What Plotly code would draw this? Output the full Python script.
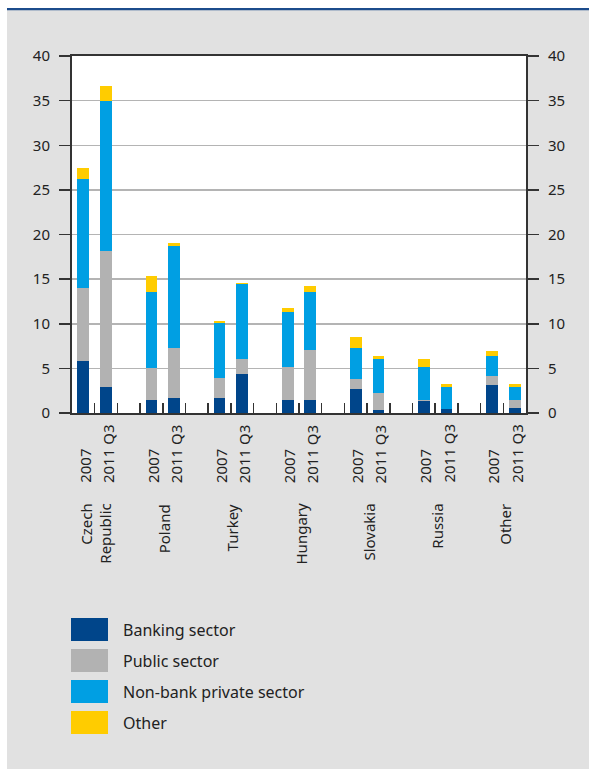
import plotly.graph_objects as go

# ---------------- data ----------------
countries = ["Czech<br>Republic", "Poland", "Turkey", "Hungary", "Slovakia", "Russia", "Other"]
periods = ["2007", "2011 Q3"]

# order: for each country -> 2007, 2011 Q3
banking = [5.8, 2.9, 1.5, 1.7, 1.7, 4.4, 1.5, 1.5, 2.7, 0.3, 1.3, 0.4, 3.1, 0.6]
public = [8.2, 15.2, 3.5, 5.6, 2.2, 1.6, 3.7, 5.6, 1.1, 1.9, 0.2, 0.1, 1.1, 0.9]
nonbank = [12.2, 16.9, 8.6, 11.4, 6.2, 8.4, 6.1, 6.5, 3.5, 3.9, 3.7, 2.4, 2.2, 1.4]
other = [1.2, 1.6, 1.7, 0.3, 0.2, 0.2, 0.5, 0.6, 1.2, 0.3, 0.8, 0.4, 0.5, 0.4]

series_names = ["Banking sector", "Public sector", "Non-bank private sector", "Other"]
series_values = [banking, public, nonbank, other]
series_colors = ["#00458a", "#b2b2b2", "#009fe3", "#ffcc00"]

y_ticks = [0, 5, 10, 15, 20, 25, 30, 35, 40]

# ---------------- layout helpers (pixel -> paper) ----------------
W_FIG, H_FIG = 589, 769
L, R, T, B = 72, 526, 56, 413  # plot area in pixels
PW, PH = R - L, B - T


def pxx(x):
    return (x - L) / PW


def pxy(y):
    return (B - y) / PH


slots_per_country = len(periods) + 1
n_slots = len(countries) * slots_per_country - 1
xpos = [slots_per_country * i + j for i in range(len(countries)) for j in range(len(periods))]

FONT = "Noto Sans"
TXT = "#222222"
AX = "#333333"

fig = go.Figure()
for name, vals, col in zip(series_names, series_values, series_colors):
    fig.add_trace(go.Bar(x=xpos, y=vals, name=name, marker=dict(color=col, line=dict(width=0)),
                         showlegend=False, hoverinfo="skip"))

# invisible trace to activate right axis
fig.add_trace(go.Scatter(x=[xpos[0]], y=[0], yaxis="y2", mode="markers",
                         marker=dict(opacity=0), showlegend=False, hoverinfo="skip"))

ann = []
for i in range(len(countries)):
    for j, p in enumerate(periods):
        ann.append(dict(x=slots_per_country * i + j, y=pxy(485), xref="x", yref="paper",
                        text=p, textangle=-90, xanchor="center", yanchor="bottom",
                        showarrow=False, xshift=1.5,
                        font=dict(family=FONT, size=15, color=TXT)))
    ann.append(dict(x=slots_per_country * i + (len(periods) - 1) / 2, y=pxy(502), xref="x", yref="paper",
                    text=countries[i], textangle=-90, xanchor="center", yanchor="top",
                    align="right", showarrow=False, xshift=1,
                    font=dict(family=FONT, size=15, color=TXT)))

shapes = [
    dict(type="rect", xref="paper", yref="paper", x0=pxx(-5), x1=pxx(7), y0=pxy(H_FIG + 10), y1=pxy(-5),
         fillcolor="white", line=dict(width=0), layer="above"),
    dict(type="rect", xref="paper", yref="paper", x0=pxx(-5), x1=pxx(W_FIG + 10), y0=pxy(8), y1=pxy(-5),
         fillcolor="white", line=dict(width=0), layer="above"),
    dict(type="line", xref="paper", yref="paper", x0=pxx(7), x1=pxx(W_FIG + 10), y0=pxy(9.2), y1=pxy(9.2),
         line=dict(color="#1c4c8c", width=2.2), layer="above"),
]

# custom legend
for k, (name, col) in enumerate(zip(series_names, series_colors)):
    top = 618 + 31 * k
    shapes.append(dict(type="rect", xref="paper", yref="paper", x0=pxx(71), x1=pxx(108),
                       y0=pxy(top + 23), y1=pxy(top), fillcolor=col, line=dict(width=0)))
    ann.append(dict(x=pxx(121), y=pxy(top + 11.5), xref="paper", yref="paper", text=name,
                    xanchor="left", yanchor="middle", showarrow=False,
                    font=dict(family=FONT, size=16, color=TXT)))

fig.update_layout(
    width=W_FIG, height=H_FIG, autosize=False,
    margin=dict(l=L, r=W_FIG - R, t=T, b=H_FIG - B, pad=0),
    paper_bgcolor="#e1e1e1", plot_bgcolor="white",
    barmode="stack", bargap=0.48,
    font=dict(family=FONT, size=15, color=TXT),
    xaxis=dict(range=[-0.5, n_slots - 0.5], tickvals=[k + 0.5 for k in range(n_slots - 1)],
               showticklabels=False, ticks="inside", ticklen=10, tickwidth=1.5, tickcolor=AX,
               showline=True, linecolor=AX, linewidth=2, mirror=True, showgrid=False, zeroline=False),
    yaxis=dict(range=[0, 40], tickvals=y_ticks, ticks="outside", ticklen=11, tickwidth=1.5,
               tickcolor=AX, showline=True, linecolor=AX, linewidth=2, showgrid=True,
               gridcolor="#b4b4b4", gridwidth=1.5, zeroline=False, ticklabelstandoff=6,
               tickfont=dict(family=FONT, size=15, color=TXT)),
    yaxis2=dict(range=[0, 40], tickvals=y_ticks, overlaying="y", side="right", ticks="outside",
                ticklen=11, tickwidth=1.5, tickcolor=AX, showline=True, linecolor=AX, linewidth=2,
                showgrid=False, zeroline=False, ticklabelstandoff=6,
                tickfont=dict(family=FONT, size=15, color=TXT)),
    annotations=ann, shapes=shapes,
)

fig.write_html("out.html", config={"displayModeBar": False, "staticPlot": True},
               post_script="document.body.style.margin='0';document.body.style.overflow='hidden';")
